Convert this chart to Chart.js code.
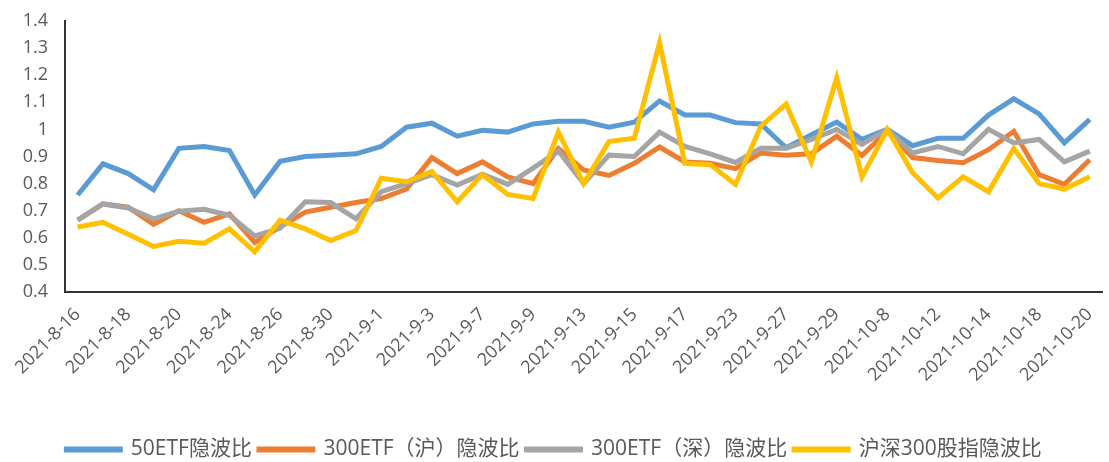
<!DOCTYPE html>
<html>
<head>
<meta charset="utf-8">
<script src="https://cdn.jsdelivr.net/npm/chart.js@4/dist/chart.umd.min.js"></script>
<style>
  html, body { margin: 0; padding: 0; background: #fff; }
  #wrap { width: 1109px; height: 462px; }
</style>
</head>
<body>
<div id="wrap"><canvas id="c" width="1109" height="462"></canvas></div>
<script>
// 交易日
const dates = ['2021-8-16','2021-8-17','2021-8-18','2021-8-19','2021-8-20','2021-8-23','2021-8-24','2021-8-25','2021-8-26','2021-8-27','2021-8-30','2021-8-31',
  '2021-9-1','2021-9-2','2021-9-3','2021-9-6','2021-9-7','2021-9-8','2021-9-9','2021-9-10','2021-9-13','2021-9-14','2021-9-15','2021-9-16','2021-9-17',
  '2021-9-22','2021-9-23','2021-9-24','2021-9-27','2021-9-28','2021-9-29','2021-9-30',
  '2021-10-8','2021-10-11','2021-10-12','2021-10-13','2021-10-14','2021-10-15','2021-10-18','2021-10-19','2021-10-20'];

// 各序列隐波比
const etf50 = [0.758,0.873,0.837,0.777,0.93,0.937,0.922,0.758,0.882,0.9,0.905,0.91,0.937,1.008,1.023,0.975,0.997,0.99,1.02,1.03,1.03,1.008,1.027,1.105,1.053,1.053,1.025,1.02,0.932,0.98,1.027,0.963,1.0,0.94,0.967,0.967,1.053,1.113,1.057,0.95,1.037];
const etf300sh = [0.665,0.725,0.713,0.65,0.70,0.657,0.688,0.583,0.64,0.695,0.713,0.73,0.745,0.78,0.896,0.837,0.88,0.825,0.80,0.93,0.85,0.83,0.875,0.935,0.88,0.875,0.855,0.913,0.905,0.91,0.975,0.904,0.993,0.896,0.885,0.877,0.925,0.993,0.833,0.797,0.888];
const etf300sz = [0.665,0.725,0.71,0.67,0.698,0.705,0.683,0.607,0.635,0.733,0.73,0.67,0.77,0.80,0.833,0.795,0.835,0.797,0.857,0.92,0.80,0.905,0.9,0.99,0.937,0.91,0.878,0.93,0.93,0.963,1.0,0.945,1.0,0.913,0.937,0.91,1.0,0.95,0.963,0.88,0.92];
const idx300 = [0.64,0.657,0.613,0.568,0.587,0.58,0.633,0.548,0.665,0.633,0.59,0.627,0.82,0.807,0.845,0.733,0.833,0.76,0.745,0.99,0.80,0.955,0.967,1.32,0.875,0.87,0.797,1.012,1.093,0.88,1.19,0.825,1.0,0.84,0.747,0.825,0.77,0.93,0.80,0.78,0.825];

const seriesNames = ['50ETF隐波比', '300ETF（沪）隐波比', '300ETF（深）隐波比', '沪深300股指隐波比'];
const colors = ['#5B9BD5', '#ED7D31', '#A5A5A5', '#FFC000'];
const yTicks = [0.4, 0.5, 0.6, 0.7, 0.8, 0.9, 1, 1.1, 1.2, 1.3, 1.4];

const FONT = '"Open Sans", "Noto Sans CJK SC", sans-serif';
const series = [etf50, etf300sh, etf300sz, idx300];

new Chart(document.getElementById('c'), {
  type: 'line',
  data: {
    labels: dates,
    datasets: series.map((d, i) => ({
      label: seriesNames[i],
      data: d,
      borderColor: colors[i],
      backgroundColor: colors[i],
      borderWidth: 5,
      pointRadius: 0,
      tension: 0,
      order: 3 - i  // 后面的序列画在上层
    }))
  },
  options: {
    responsive: false,
    animation: false,
    layout: { padding: { left: 0, right: 1, top: 21, bottom: -8 } },
    plugins: {
      tooltip: { enabled: false },
      legend: {
        position: 'bottom',
        labels: {
          sort: (a, b) => a.datasetIndex - b.datasetIndex,
          boxWidth: 54,
          boxHeight: 1,
          padding: 7,
          color: '#595959',
          font: { family: FONT, size: 21 }
        }
      }
    },
    scales: {
      x: {
        offset: true,
        grid: { display: false },
        border: { display: true, color: '#333', width: 2 },
        ticks: {
          autoSkip: false,
          maxRotation: 45,
          minRotation: 45,
          padding: 4,
          color: '#595959',
          font: { family: FONT, size: 18 },
          callback: function (v, i) { return i % 2 === 0 ? dates[i] : ''; }
        },
        afterFit: s => { s.height = 140; }
      },
      y: {
        min: 0.4,
        max: 1.4,
        grid: { display: false, drawTicks: false },
        border: { display: true, color: '#333', width: 2 },
        afterBuildTicks: s => { s.ticks = yTicks.map(v => ({ value: v })); },
        ticks: {
          padding: 17,
          color: '#595959',
          font: { family: FONT, size: 18 },
          callback: v => String(Math.round(v * 10) / 10)
        },
        afterFit: s => { s.width = 65; s.paddingTop = 0; s.paddingBottom = 0; }
      }
    }
  }
});
</script>
</body>
</html>
